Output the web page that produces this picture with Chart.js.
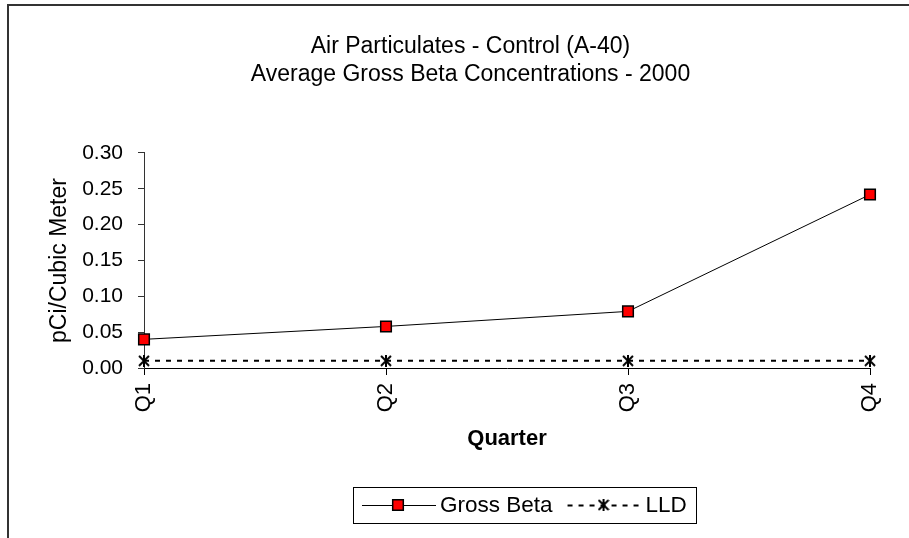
<!DOCTYPE html>
<html>
<head>
<meta charset="utf-8">
<script src="https://cdn.jsdelivr.net/npm/chart.js@4/dist/chart.umd.min.js"></script>
<style>
  html, body { margin: 0; padding: 0; background: #fff; }
  #wrap { position: relative; width: 909px; height: 538px; }
</style>
</head>
<body>
<div id="wrap"><canvas id="airChart" width="909" height="538"></canvas></div>
<script>
// chart data
const quarters = ['Q1', 'Q2', 'Q3', 'Q4'];
const grossBeta = [0.04, 0.058, 0.079, 0.242];
const lld = [0.01, 0.01, 0.01, 0.01];
const titleLines = ['Air Particulates - Control (A-40)', 'Average Gross Beta Concentrations - 2000'];

const FONT = '"Liberation Sans", Arial, sans-serif';

// Excel style star marker: an X with a vertical stroke
function makeStar(size) {
    const c = document.createElement('canvas');
    c.width = size; c.height = size;
    const g = c.getContext('2d');
    g.strokeStyle = '#000';
    g.lineWidth = 2;
    const m = size / 2, r = size / 2 - 1;
    g.beginPath();
    g.moveTo(m - r, m - r); g.lineTo(m + r, m + r);
    g.moveTo(m + r, m - r); g.lineTo(m - r, m + r);
    g.moveTo(m, 0); g.lineTo(m, size);
    g.stroke();
    return c;
}
const starMark = makeStar(12);

// top/left frame like the exported sheet
const framePlugin = {
    id: 'frame',
    beforeDraw(chart) {
        const ctx = chart.ctx;
        ctx.save();
        ctx.strokeStyle = '#333';
        ctx.lineWidth = 2;
        ctx.beginPath();
        ctx.moveTo(8, 538);
        ctx.lineTo(8, 5);
        ctx.lineTo(909, 5);
        ctx.stroke();
        ctx.restore();
    }
};

// boxed legend with line + marker samples
const legendBox = {
    id: 'legendBox',
    afterDraw(chart) {
        const ctx = chart.ctx;
        const box = { x: 353, y: 487, w: 343, h: 36 };
        const cy = box.y + box.h / 2;
        ctx.save();
        ctx.strokeStyle = '#000';
        ctx.lineWidth = 1;
        ctx.strokeRect(box.x + 0.5, box.y + 0.5, box.w, box.h);
        ctx.font = '22.5px ' + FONT;
        ctx.textBaseline = 'middle';
        ctx.fillStyle = '#000';
        let x = box.x + 9;
        chart.data.datasets.forEach(ds => {
            ctx.save();
            ctx.strokeStyle = ds.borderColor;
            ctx.lineWidth = ds.borderWidth;
            ctx.setLineDash(ds.borderDash || []);
            ctx.beginPath();
            ctx.moveTo(x, cy + 0.5);
            ctx.lineTo(x + 74, cy + 0.5);
            ctx.stroke();
            ctx.setLineDash([]);
            ctx.fillStyle = ds.pointBackgroundColor;
            ctx.strokeStyle = ds.pointBorderColor;
            ctx.lineWidth = ds.pointBorderWidth;
            Chart.helpers.drawPoint(ctx, {
                pointStyle: ds.pointStyle, radius: ds.pointRadius, rotation: 0, borderWidth: ds.pointBorderWidth
            }, x + 36, cy);
            ctx.restore();
            ctx.fillText(ds.label, x + 78, cy + 1);
            x += 78 + ctx.measureText(ds.label).width + 15;
        });
        ctx.restore();
    }
};

new Chart(document.getElementById('airChart'), {
    type: 'line',
    data: {
        labels: quarters,
        datasets: [
            {
                label: 'Gross Beta',
                data: grossBeta,
                borderColor: '#000',
                borderWidth: 1,
                pointStyle: 'rect',
                pointRadius: 7.5,
                pointHoverRadius: 7.5,
                pointBackgroundColor: '#ff0000',
                pointBorderColor: '#000',
                pointBorderWidth: 1.5,
                tension: 0,
                clip: false
            },
            {
                label: 'LLD',
                data: lld,
                borderColor: '#000',
                borderWidth: 2,
                borderDash: [5, 6],
                pointStyle: starMark,
                pointRadius: 6,
                pointBackgroundColor: '#000',
                pointBorderColor: '#000',
                pointBorderWidth: 1,
                tension: 0,
                clip: false
            }
        ]
    },
    options: {
        responsive: false,
        animation: false,
        events: [],
        layout: { padding: { left: 40, right: 8, top: 0, bottom: 70 } },
        plugins: {
            legend: { display: false },
            tooltip: { enabled: false },
            title: {
                display: true,
                text: titleLines,
                color: '#000',
                font: { family: FONT, size: 23, weight: 'normal', lineHeight: 1.217 },
                padding: { top: 33, bottom: 64 }
            }
        },
        scales: {
            x: {
                type: 'category',
                offset: false,
                grid: { drawOnChartArea: false, drawTicks: true, tickLength: 7, color: '#000' },
                border: { display: true, color: '#000', width: 1 },
                ticks: {
                    autoSkip: false, minRotation: 90, maxRotation: 90, padding: 8,
                    color: '#000', font: { family: FONT, size: 22 }
                },
                title: {
                    display: true, text: 'Quarter', color: '#000',
                    font: { family: FONT, size: 22, weight: 'bold' },
                    padding: { top: 4, bottom: 16 }
                },
                afterFit(s) { s.height = 100; }
            },
            y: {
                min: 0, max: 0.3,
                grid: { drawOnChartArea: false, drawTicks: true, tickLength: 6, color: '#333' },
                border: { display: true, color: '#333', width: 1 },
                ticks: {
                    stepSize: 0.05, padding: 15, color: '#000',
                    font: { family: FONT, size: 21 },
                    callback: v => Number(v).toFixed(2)
                },
                title: {
                    display: true, text: 'pCi/Cubic Meter', color: '#000',
                    font: { family: FONT, size: 23 },
                    padding: { top: 6, bottom: 4 }
                },
                afterFit(s) { s.width = 104; }
            },
            spare: {
                position: 'right',
                display: true,
                grid: { display: false },
                border: { display: false },
                ticks: { display: false },
                afterFit(s) { s.width = 31; }
            }
        }
    },
    plugins: [framePlugin, legendBox]
});
</script>
</body>
</html>
